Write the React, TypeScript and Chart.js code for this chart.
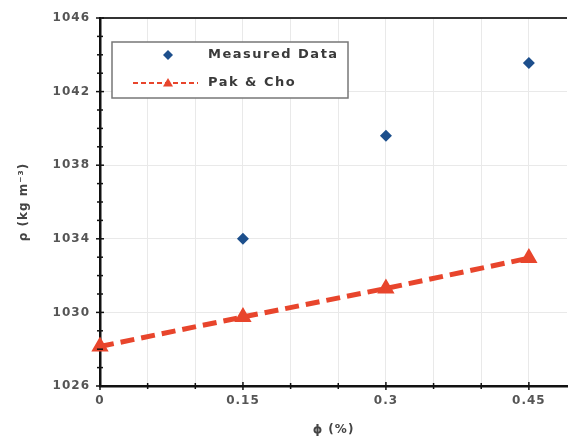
import { useEffect, useRef } from "react";
import { Chart, registerables } from "chart.js";
Chart.register(...registerables);

const phiValues = [0, 0.15, 0.3, 0.45];
const measuredPhi = [0.15, 0.3, 0.45];
const measuredRho = [1034.0, 1039.6, 1043.55];
const pakChoRho = [1028.15, 1029.75, 1031.3, 1032.95];
const xTickValues = [0, 0.15, 0.3, 0.45];
const xTickLabels = ["0", "0.15", "0.3", "0.45"];
const xMinorTicks = [0, 0.05, 0.1, 0.15, 0.2, 0.25, 0.3, 0.35, 0.4, 0.45];
const yTickValues = [1026, 1030, 1034, 1038, 1042, 1046];
const seriesNames = ["Measured Data", "Pak & Cho"];

const FONT = "'DejaVu Sans', sans-serif";
const BLUE = "#1d4f8c";
const RED = "#e8452c";

const isX = (v: number) => xTickValues.some((t) => Math.abs(t - v) < 1e-6);
const isY = (v: number) => yTickValues.some((t) => Math.abs(t - v) < 1e-6);

const spacingPlugin = {
  id: "spacing",
  beforeDraw(chart: any) {
    (chart.ctx as any).letterSpacing = "1px";
  },
};

const tickPlugin = {
  id: "tickMarks",
  afterDatasetsDraw(chart: any) {
    const ctx = chart.ctx;
    const xs = chart.scales.x;
    const ys = chart.scales.y;
    const a = chart.chartArea;
    ctx.save();
    ctx.strokeStyle = "#111";
    ctx.lineWidth = 1.5;
    xs.ticks.forEach((t: any) => {
      const px = xs.getPixelForValue(t.value);
      const h = isX(t.value) ? 4 : 3;
      ctx.beginPath();
      ctx.moveTo(px, a.bottom - h);
      ctx.lineTo(px, a.bottom + h);
      ctx.stroke();
    });
    ys.ticks.forEach((t: any) => {
      const py = ys.getPixelForValue(t.value);
      const h = isY(t.value) ? 4 : 3;
      ctx.beginPath();
      ctx.moveTo(a.left - h, py);
      ctx.lineTo(a.left + h, py);
      ctx.stroke();
    });
    ctx.restore();
  },
};

const legendPlugin = {
  id: "boxLegend",
  afterDraw(chart: any) {
    const ctx = chart.ctx;
    const a = chart.chartArea;
    const x0 = a.left + 12;
    const y0 = 42;
    const w = 236;
    const h = 56;
    ctx.save();
    ctx.fillStyle = "#fff";
    ctx.fillRect(x0, y0, w, h);
    ctx.strokeStyle = "#777";
    ctx.lineWidth = 1.5;
    ctx.strokeRect(x0, y0, w, h);
    const ds = chart.data.datasets;
    ctx.fillStyle = ds[0].backgroundColor;
    const dx = x0 + 56;
    const dy = y0 + 13;
    ctx.beginPath();
    ctx.moveTo(dx, dy - 5);
    ctx.lineTo(dx + 5, dy);
    ctx.lineTo(dx, dy + 5);
    ctx.lineTo(dx - 5, dy);
    ctx.closePath();
    ctx.fill();
    const ly = y0 + 41;
    ctx.strokeStyle = ds[1].borderColor;
    ctx.lineWidth = 2;
    ctx.setLineDash([5, 3]);
    ctx.beginPath();
    ctx.moveTo(x0 + 21, ly);
    ctx.lineTo(x0 + 86, ly);
    ctx.stroke();
    ctx.setLineDash([]);
    ctx.fillStyle = ds[1].pointBackgroundColor;
    ctx.beginPath();
    ctx.moveTo(dx, ly - 5);
    ctx.lineTo(dx + 5, ly + 3.5);
    ctx.lineTo(dx - 5, ly + 3.5);
    ctx.closePath();
    ctx.fill();
    ctx.fillStyle = "#3a3a3a";
    (ctx as any).letterSpacing = "1.5px";
    ctx.font = `bold 13px ${FONT}`;
    ctx.textAlign = "left";
    ctx.textBaseline = "middle";
    ctx.fillText(ds[0].label, x0 + 96, dy);
    ctx.fillText(ds[1].label, x0 + 96, ly);
    ctx.restore();
  },
};

export default function App() {
  const ref = useRef<HTMLCanvasElement>(null);
  useEffect(() => {
    const chart = new Chart(ref.current!, {
      type: "scatter",
      data: {
        datasets: [
          {
            label: seriesNames[0],
            data: measuredPhi.map((x, i) => ({ x, y: measuredRho[i] })),
            pointStyle: "rectRot",
            pointRadius: 6,
            backgroundColor: BLUE,
            borderColor: BLUE,
            pointBorderWidth: 0,
            showLine: false,
          },
          {
            label: seriesNames[1],
            data: phiValues.map((x, i) => ({ x, y: pakChoRho[i] })),
            showLine: true,
            borderColor: RED,
            borderWidth: 5,
            borderDash: [14, 7],
            pointStyle: "triangle",
            pointRadius: 5,
            pointBackgroundColor: RED,
            pointBorderColor: RED,
            backgroundColor: RED,
            clip: false,
          } as any,
        ],
      },
      options: {
        animation: false,
        responsive: true,
        maintainAspectRatio: false,
        layout: { padding: { top: 18, right: 0, bottom: 0, left: 0 } },
        plugins: { legend: { display: false }, tooltip: { enabled: false } },
        scales: {
          x: {
            type: "linear",
            min: 0,
            max: 0.49,
            afterFit: (s: any) => {
              s.height = 55;
            },
            afterBuildTicks: (s: any) => {
              s.ticks = xMinorTicks.map((v) => ({ value: v }));
            },
            ticks: {
              padding: 8,
              autoSkip: false,
              maxRotation: 0,
              color: "#555",
              font: { family: FONT, size: 12, weight: "bold" },
              callback: (v: any) => {
                const i = xTickValues.findIndex((t) => Math.abs(t - v) < 1e-6);
                return i >= 0 ? xTickLabels[i] : "";
              },
            },
            grid: {
              drawTicks: false,
              color: "#e9e9e9",
              lineWidth: 1,
            },
            border: { display: true, color: "#111", width: 2.5 },
            title: {
              display: true,
              text: "ϕ (%)",
              color: "#444",
              font: { family: FONT, size: 12, weight: "bold" },
              padding: { top: 0, bottom: 4 },
            },
          },
          y: {
            type: "linear",
            min: 1026,
            max: 1046,
            afterFit: (s: any) => {
              s.width = 100;
            },
            ticks: {
              stepSize: 1,
              padding: 10,
              autoSkip: false,
              color: "#555",
              font: { family: FONT, size: 12, weight: "bold" },
              callback: (v: any) => (isY(Number(v)) ? String(v) : ""),
            },
            grid: {
              drawTicks: false,
              color: (c: any) => {
                if (!c.tick) return "rgba(0,0,0,0)";
                if (Math.abs(c.tick.value - 1046) < 1e-6) return "#333";
                return isY(c.tick.value) ? "#e9e9e9" : "rgba(0,0,0,0)";
              },
              lineWidth: (c: any) => (c.tick && Math.abs(c.tick.value - 1046) < 1e-6 ? 2 : 1),
            },
            border: { display: true, color: "#111", width: 2.5 },
            title: {
              display: true,
              text: "ρ (kg m⁻³)",
              color: "#444",
              font: { family: FONT, size: 12, weight: "bold" },
              padding: { top: 17, bottom: 0 },
            },
          },
        },
      },
      plugins: [spacingPlugin, tickPlugin, legendPlugin],
    });
    return () => chart.destroy();
  }, []);
  return (
    <div style={{ position: "fixed", left: 0, top: 0, width: 577, height: 441, background: "#fff" }}>
      <canvas ref={ref} />
    </div>
  );
}
